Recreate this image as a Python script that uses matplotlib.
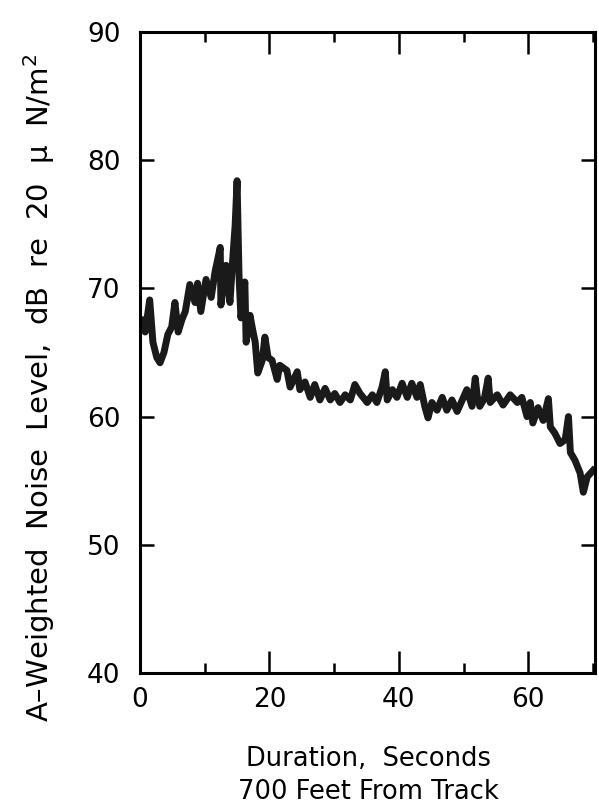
import numpy as np
import matplotlib
matplotlib.use("Agg")
import matplotlib.pyplot as plt
from matplotlib.ticker import MultipleLocator

plt.rcParams['font.family'] = ['DejaVu Sans']
plt.rcParams['mathtext.default'] = 'regular'

t = [0.2, 0.8, 1.5, 2.0, 2.6, 3.1, 3.7, 4.3, 4.9, 5.4, 5.9, 6.5, 7.0, 7.7, 8.5, 8.9,
     9.4, 10.2, 11.0, 11.6, 12.4, 12.5, 13.3, 13.9, 14.4, 14.7, 15.0, 15.3, 15.6, 16.2,
     16.4, 17.0, 17.4, 17.8, 18.2, 18.9, 19.3, 19.8, 20.4, 21.2, 21.6, 22.7, 23.2, 24.3,
     24.7, 25.5, 26.3, 27.0, 27.8, 28.6, 29.4, 30.1, 30.9, 31.7, 32.5, 33.2, 34.0, 34.8,
     35.1, 35.9, 36.6, 37.4, 37.9, 38.2, 39.0, 39.7, 40.5, 41.3, 42.0, 42.8, 43.3, 44.0,
     44.5, 45.1, 45.9, 46.7, 47.4, 48.2, 49.0, 49.8, 50.5, 51.3, 51.8, 52.1, 52.5, 53.2,
     53.8, 54.1, 55.2, 56.1, 57.2, 58.3, 59.0, 59.8, 60.3, 60.7, 61.5, 62.3, 63.1, 63.4,
     64.1, 64.9, 65.7, 66.2, 66.5, 67.2, 68.0, 68.5, 69.1, 70.0]
level = [67.5, 66.6, 69.1, 65.8, 64.6, 64.2, 65.0, 66.4, 67.0, 68.9, 66.6, 67.6, 68.2, 70.3, 68.9, 70.4,
         68.2, 70.7, 69.3, 71.3, 73.2, 68.7, 71.8, 68.9, 72.8, 74.9, 78.4, 71.0, 67.7, 70.5,
         65.8, 67.9, 66.8, 65.8, 63.4, 64.4, 66.2, 64.6, 64.4, 62.9, 64.0, 63.6, 62.3, 63.5,
         62.1, 62.7, 61.5, 62.5, 61.3, 62.2, 61.3, 61.8, 61.1, 61.7, 61.3, 62.5, 61.8, 61.3,
         61.1, 61.7, 61.1, 62.3, 63.5, 61.3, 62.1, 61.5, 62.6, 61.5, 62.6, 61.5, 62.5, 60.8,
         59.9, 61.1, 60.5, 61.5, 60.5, 61.3, 60.4, 61.3, 62.1, 60.8, 63.0, 61.6, 60.8, 61.4,
         63.0, 61.1, 61.7, 60.9, 61.7, 61.1, 61.5, 60.0, 61.1, 59.5, 60.7, 59.7, 61.4, 59.2,
         58.7, 57.9, 58.2, 60.0, 57.2, 56.6, 55.6, 54.1, 55.3, 55.8]

fig = plt.figure(figsize=(5.99, 8.11), dpi=100)
ax = fig.add_axes([0.2337, 0.1702, 0.7596, 0.7903])

ax.plot(t, level, color='#1a1a1a', lw=5.0, solid_joinstyle='round')

ax.set_xlim(0, 70.3)
ax.set_ylim(40, 90)
ax.xaxis.set_major_locator(MultipleLocator(20))
ax.xaxis.set_minor_locator(MultipleLocator(10))
ax.yaxis.set_major_locator(MultipleLocator(10))

ax.tick_params(axis='x', which='major', direction='in', length=16, width=1.8,
               top=True, bottom=True, labelsize=19, pad=10)
ax.tick_params(axis='x', which='minor', direction='in', length=7, width=1.8,
               top=True, bottom=True)
ax.tick_params(axis='y', which='major', direction='in', length=10, width=1.8,
               left=True, right=True, labelsize=19, pad=14)
for s in ax.spines.values():
    s.set_linewidth(2.2)

fig.text(0.615, 0.044, "Duration,  Seconds\n700 Feet From Track", ha='center', va='center',
         fontsize=18.5, linespacing=1.35)
fig.text(0.066, 0.522, r"A–Weighted  Noise  Level,  dB  re  20  $\mu$  N/m$^2$",
         rotation=90, ha='center', va='center', fontsize=21)

fig.savefig("out.png", dpi=100)
